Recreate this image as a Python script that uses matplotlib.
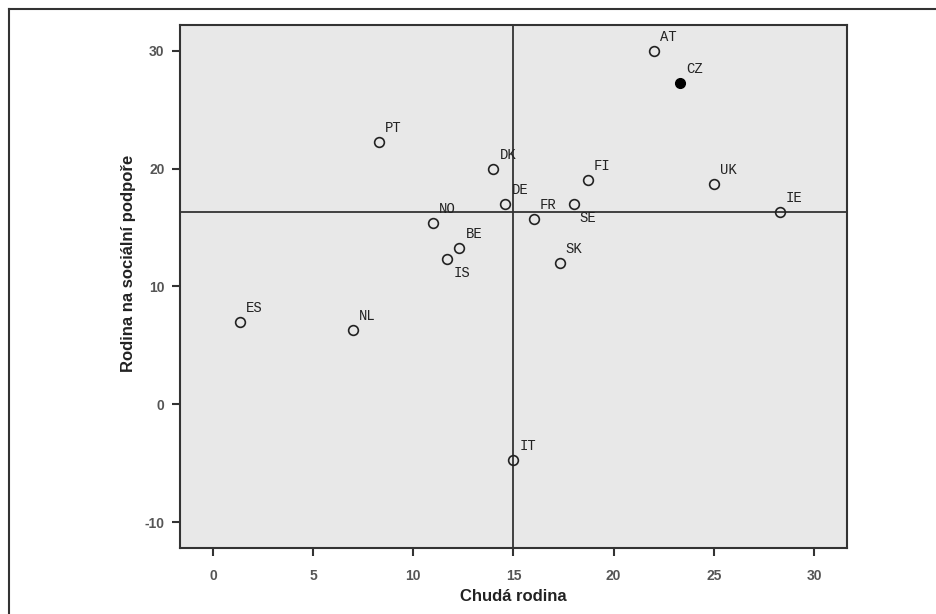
import matplotlib
matplotlib.use("Agg")
import matplotlib.pyplot as plt
from matplotlib.lines import Line2D

plt.rcParams["axes.unicode_minus"] = False

# zeme a jejich hodnoty (odhad z obrazku)
zeme = ["AT", "CZ", "PT", "DK", "FI", "UK", "DE", "SE", "IE", "FR",
        "NO", "BE", "IS", "SK", "ES", "NL", "IT"]
chuda_rodina = [22.0, 23.3, 8.3, 14.0, 18.7, 25.0, 14.6, 18.0, 28.3, 16.0,
                11.0, 12.3, 11.7, 17.3, 1.35, 7.0, 15.0]
socialni_podpora = [30.0, 27.3, 22.3, 20.0, 19.0, 18.7, 17.0, 17.0, 16.3, 15.7,
                    15.4, 13.3, 12.3, 12.0, 7.0, 6.3, -4.7]
zvyraznena = ["CZ"]
popisky_dole = ["SE", "IS"]

prumer_x = 15.0
prumer_y = 16.3

x_ticks = [0, 5, 10, 15, 20, 25, 30]
y_ticks = [-10, 0, 10, 20, 30]

fig = plt.figure(figsize=(9.37, 6.14), dpi=100)
ax = fig.add_axes([0.192, 0.1075, 0.712, 0.852])
ax.set_facecolor("#e8e8e8")

ax.axvline(prumer_x, color="#333333", lw=1.3, zorder=1)
ax.axhline(prumer_y, color="#333333", lw=1.3, zorder=1)

for nazev, x, y in zip(zeme, chuda_rodina, socialni_podpora):
    if nazev in zvyraznena:
        ax.plot(x, y, "o", ms=7, mfc="black", mec="black", zorder=3)
    else:
        ax.plot(x, y, "o", ms=7, mfc="none", mec="#222222", mew=1.2, zorder=3)
    dy = 14 if nazev in popisky_dole else -14
    ax.annotate(nazev, (x, y), xytext=(6, -dy), textcoords="offset pixels",
                ha="left", va="center", family="Liberation Mono",
                fontsize=10, color="#222222", zorder=4)

ax.set_xlim(-1.65, 31.65)
ax.set_ylim(-12.2, 32.2)
ax.set_xticks(x_ticks)
ax.set_yticks(y_ticks)

for s in ax.spines.values():
    s.set_color("#333333")
    s.set_linewidth(1.5)
ax.tick_params(direction="out", length=6, width=1.5, color="#333333",
               labelcolor="#555555", labelsize=10, pad=5)
ax.tick_params(axis="x", pad=9)
for lbl in ax.get_xticklabels() + ax.get_yticklabels():
    lbl.set_family("Liberation Sans")
    lbl.set_fontweight("bold")

ax.set_xlabel("Chudá rodina", family="Liberation Sans", fontweight="bold",
              fontsize=12, color="#222222")
ax.set_ylabel("Rodina na sociální podpoře", family="Liberation Sans",
              fontweight="bold", fontsize=12, color="#222222")
ax.xaxis.set_label_coords(0.5, -0.078)
ax.yaxis.set_label_coords(-0.066, 0.545)

# ramecek kolem grafu (jen horni a leva cara)
fig.add_artist(Line2D([9 / 937, 1.0], [1 - 9 / 614, 1 - 9 / 614],
                      transform=fig.transFigure, color="#333333", lw=1.5))
fig.add_artist(Line2D([9 / 937, 9 / 937], [0.0, 1 - 9 / 614],
                      transform=fig.transFigure, color="#333333", lw=1.5))

fig.savefig("out.png", dpi=100)
